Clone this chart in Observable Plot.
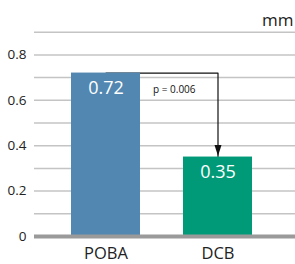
<!DOCTYPE html>
<html><head><meta charset="utf-8">
<script src="https://cdn.jsdelivr.net/npm/d3@7"></script>
<script src="https://cdn.jsdelivr.net/npm/@observablehq/plot@0.6"></script>
<style>
html,body{margin:0;padding:0;background:#fff;}
#chart svg{display:block;background:linear-gradient(to bottom,#fbfcfe 0%,#f4f7fc 55%,#e5edf8 100%);}
</style></head><body><div id="chart"></div>
<script>
const categories = ["POBA", "DCB"];
const values = [0.72, 0.35];
const colors = ["#5187b1", "#009a78"];
const yTicks = [0, 0.2, 0.4, 0.6, 0.8];
const gridValues = [0.1, 0.2, 0.3, 0.4, 0.5, 0.6, 0.7, 0.8, 0.9];
const unitLabel = "mm";
const pLabel = "p = 0.006";

const bars = categories.map((c, i) => ({category: c, value: values[i], color: colors[i]}));
const bracket = [
  {category: categories[0], value: values[0]},
  {category: categories[1], value: values[0]},
  {category: categories[1], value: values[1]}
];
const arrowHead = {
  draw(ctx) { ctx.moveTo(0, -1); ctx.lineTo(-3.5, -12); ctx.lineTo(3.5, -12); ctx.closePath(); }
};

const chart = Plot.plot({
  width: 295, height: 264,
  marginTop: 9, marginBottom: 28, marginLeft: 34, marginRight: 0,
  style: {fontFamily: "'Open Sans', sans-serif", color: "#222", background: "transparent"},
  x: {domain: categories, paddingInner: 0.388, paddingOuter: 0.352, align: 0.454, axis: null},
  y: {domain: [0, 1], axis: null},
  color: {type: "identity"},
  marks: [
    Plot.ruleY(gridValues, {stroke: "#c4c4c4", strokeWidth: 1.5}),
    Plot.line(bracket, {x: "category", y: "value", stroke: "#111", strokeWidth: 1.2}),
    Plot.barY(bars, {x: "category", y: "value", fill: "color"}),
    Plot.dot([bracket[2]], {x: "category", y: "value", symbol: arrowHead, fill: "#111", stroke: "none", r: 5}),
    Plot.ruleY([0], {stroke: "#9a9a9a", strokeWidth: 4}),
    Plot.axisY(yTicks, {tickSize: 0, tickPadding: 8, fontSize: 13.5, label: null,
      tickFormat: d => d === 0 ? "0" : d.toFixed(1)}),
    Plot.axisX({tickSize: 0, tickPadding: 11, fontSize: 16.5, label: null}),
    Plot.text(bars, {x: "category", y: "value", text: d => d.value.toFixed(2), fill: "white",
      lineAnchor: "top", dy: 8, fontSize: 18}),
    Plot.text([pLabel], {x: () => categories[0], y: () => 0.645, text: d => d, textAnchor: "start",
      dx: 47, fontSize: 10, fill: "#111"}),
    Plot.text([unitLabel], {frameAnchor: "top-right", text: d => d, textAnchor: "end", lineAnchor: "top",
      dy: 4, dx: -2, fontSize: 17, fill: "#222"})
  ]
});
document.getElementById("chart").appendChild(chart);
</script></body></html>
